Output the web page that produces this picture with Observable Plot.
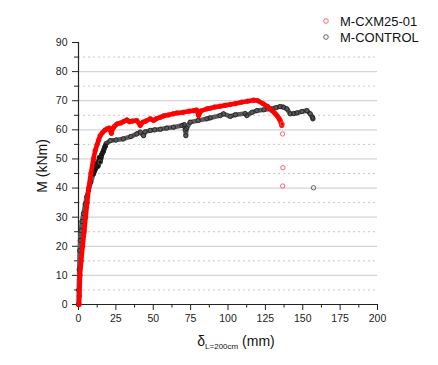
<!DOCTYPE html>
<html>
<head>
<meta charset="utf-8">
<script src="https://cdn.jsdelivr.net/npm/d3@7"></script>
<script src="https://cdn.jsdelivr.net/npm/@observablehq/plot@0.6"></script>
<style>
  html, body { margin: 0; padding: 0; background: #fff; }
  #wrap { position: relative; width: 438px; height: 365px; font-family: "Liberation Sans", Arial, sans-serif; color: #111; }
  #wrap svg { display: block; }
  .ylab { position: absolute; left: 42px; top: 166px; transform: translate(-50%, -50%) rotate(-90deg); font-size: 14px; white-space: nowrap; }
  .xlab { position: absolute; left: 236px; top: 333px; transform: translateX(-50%); font-size: 14px; white-space: nowrap; }
  .xlab sub { font-size: 8px; vertical-align: -3px; }
  .legend { position: absolute; left: 320px; top: 13px; font-size: 13px; }
  .legend div { display: flex; align-items: center; height: 16px; }
  .legend svg { margin-right: 6px; }
</style>
</head>
<body>
<div id="wrap">
  <div class="ylab">M (kNm)</div>
  <div class="xlab">δ<sub>L=200cm</sub> (mm)</div>
  <div class="legend">
    <div><svg width="14" height="10"><circle cx="6" cy="5" r="2.3" fill="none" stroke="#f55" stroke-width="0.9"/></svg>M-CXM25-01</div>
    <div><svg width="14" height="10"><circle cx="6" cy="5" r="2.3" fill="none" stroke="#555" stroke-width="0.9"/></svg>M-CONTROL</div>
  </div>
</div>
<script>
// Series names
const seriesNames = ["M-CXM25-01", "M-CONTROL"];

// M-CXM25-01 (red), main curve
const redX = [0.4, 0.6, 1.0, 1.8, 2.8, 3.8, 4.8, 5.8, 6.8, 8.3, 10, 11.2, 12.5, 13.5, 14.5, 16, 17.5, 19, 20.5, 22, 23, 24, 25.7, 28, 30, 32.4, 34, 36, 39, 41.3, 43, 45, 48, 50.2, 52, 54.7, 57, 60, 63.5, 66, 70, 74, 77, 79, 80.3, 82, 85.9, 88, 91, 94.8, 98, 101.5, 105, 109, 113, 117, 120, 123.7, 126.5, 129.4, 131.5, 132.7, 134, 134.9, 135.6, 136];
const redY = [0, 3, 10, 15, 20, 25, 30, 35, 40, 45, 50, 52.9, 55, 56.5, 58, 59, 59.8, 60.3, 60.6, 58.8, 60.5, 61.2, 62, 62.3, 62.8, 63.4, 62.8, 63.0, 63.2, 61.5, 62.6, 63, 63.8, 63.2, 63.8, 64.3, 64.8, 65.1, 65.5, 65.8, 66.0, 66.4, 66.6, 66.8, 64.9, 66.5, 67.2, 67.4, 67.8, 68.1, 68.4, 68.7, 69.0, 69.5, 69.8, 70.2, 70.0, 68.9, 68.0, 66.6, 65.6, 64.9, 64.0, 63.2, 62.3, 61.5];
// M-CXM25-01 isolated points after failure
const redEndX = [136.3, 136.5, 136.7, 136.6];
const redEndY = [62, 58.6, 47, 40.7];

// M-CONTROL (black), main curve
const blackX = [0, 0.2, 0.5, 0.8, 1.2, 1.6, 2.3, 3.3, 4.5, 5.5, 6.7, 8.2, 10, 11.2, 12, 13, 14, 14.5, 15.5, 16.5, 17.5, 18, 18.5, 21.2, 25, 30, 35, 39, 41.3, 43.5, 44.5, 48, 51, 54.7, 59, 63.5, 69.2, 70.8, 71.4, 71.8, 72.3, 74.7, 80, 85.9, 88, 94.8, 97, 101.5, 105, 111.5, 112.6, 116, 119.3, 124, 128.2, 132, 134.9, 137, 139.4, 141.6, 144, 146, 149.5, 152.8, 155, 156.5, 156.8];
const blackY = [0, 5, 12, 18.5, 22, 25.4, 28.5, 31.2, 34.5, 37, 39.2, 42, 44.9, 46.5, 48.5, 47.5, 50.5, 49, 51.5, 52.5, 54, 54.5, 55.3, 56.3, 56.5, 56.9, 57.7, 58.6, 59.2, 58, 59.3, 59.8, 60, 60.2, 60.6, 60.9, 61.5, 61.8, 60, 58, 60.5, 62.6, 63.2, 63.8, 64.1, 64.9, 65.5, 64.6, 65.2, 65.6, 64.9, 66, 66.6, 66.9, 67.2, 67.6, 68, 67.8, 67.2, 65.5, 65.6, 65.8, 66.3, 66.6, 65.5, 64.3, 63.8];
// M-CONTROL isolated points
const blackEndX = [14.5, 157.2];
const blackEndY = [48.9, 40.1];

// Axis ticks
const xTicks = [0, 25, 50, 75, 100, 125, 150, 175, 200];
const xMinor = [12.5, 37.5, 62.5, 87.5, 112.5, 137.5, 162.5, 187.5];
const yTicks = [0, 10, 20, 30, 40, 50, 60, 70, 80, 90];
const yMinor = [5, 15, 25, 35, 45, 55, 65, 75, 85];
const solidGrid = [10, 20, 30, 40, 50, 60, 70, 80];
const dashGrid = [5, 15, 25, 35, 45, 55, 65, 75, 85];

const zip = (xs, ys) => xs.map((x, i) => ({x, y: ys[i]}));
const red = zip(redX, redY), redEnd = zip(redEndX, redEndY);
const black = zip(blackX, blackY), blackEnd = zip(blackEndX, blackEndY);
const blackCluster = black.filter(d => d.x >= 10 && d.x <= 18);

const plot = Plot.plot({
  width: 438, height: 365,
  marginLeft: 78, marginRight: 61, marginTop: 42, marginBottom: 61,
  x: {domain: [0, 200]},
  y: {domain: [0, 90]},
  style: {fontFamily: "'Liberation Sans', Arial, sans-serif", fontSize: "10.5px", color: "#222", background: "white", overflow: "visible"},
  marks: [
    Plot.ruleY(solidGrid, {stroke: "#d4d4d4", strokeWidth: 1.2}),
    Plot.ruleY(dashGrid, {stroke: "#c8c8c8", strokeDasharray: "2,3"}),
    Plot.axisY(yTicks, {tickSize: 6, tickPadding: 5, label: null, tickFormat: d => d}),
    Plot.axisY(yMinor, {tickSize: 4, text: null, label: null}),
    Plot.axisX(xTicks, {tickSize: 6, tickPadding: 4, label: null, tickFormat: d => d}),
    Plot.axisX(xMinor, {tickSize: 3.5, text: null, label: null}),
    Plot.ruleX([0], {stroke: "#222", strokeWidth: 1.2}),
    Plot.ruleY([0], {stroke: "#222", strokeWidth: 1.2}),
    Plot.line(black, {x: "x", y: "y", stroke: "#5a5a5a", strokeWidth: 4.6}),
    Plot.line(blackCluster, {x: "x", y: "y", stroke: "#111", strokeWidth: 5}),
    Plot.dot(black, {x: "x", y: "y", r: 2.2, stroke: "#222", fill: "none", strokeWidth: 0.9}),
    Plot.dot(blackEnd, {x: "x", y: "y", r: 2.2, stroke: "#555", fill: "none", strokeWidth: 0.9}),
    Plot.line(red, {x: "x", y: "y", stroke: "#ff0000", strokeWidth: 4.6}),
    Plot.dot(red, {x: "x", y: "y", r: 2.2, stroke: "#ff0000", fill: "none", strokeWidth: 0.9}),
    Plot.dot(redEnd, {x: "x", y: "y", r: 2.2, stroke: "#ff5555", fill: "none", strokeWidth: 0.9})
  ]
});
document.getElementById("wrap").prepend(plot);
</script>
</body>
</html>
